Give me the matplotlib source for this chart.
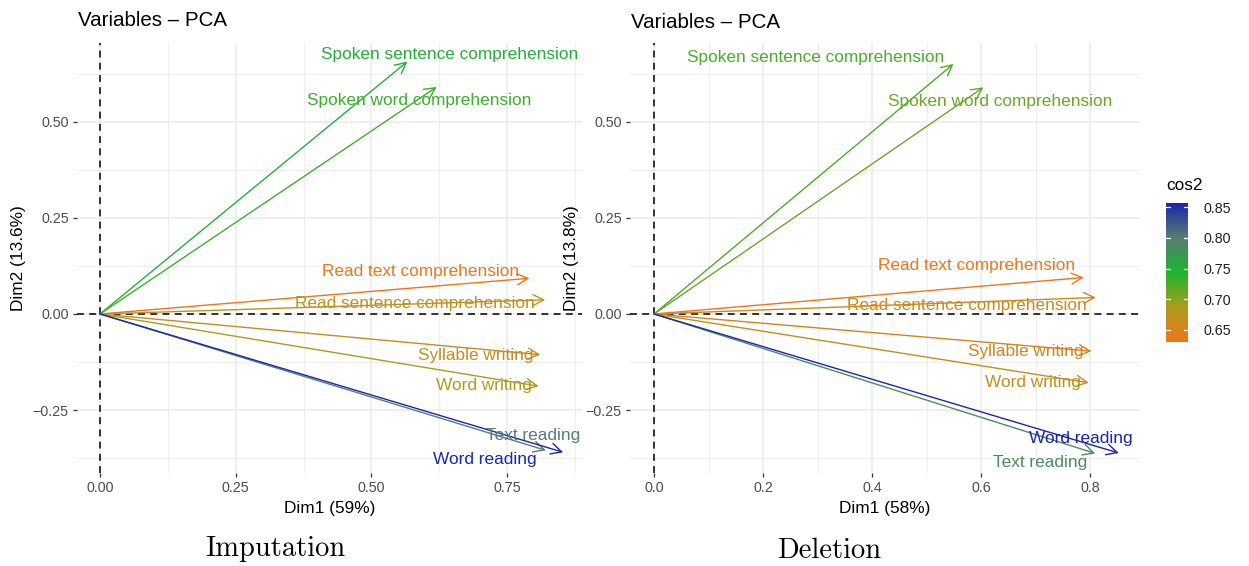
import matplotlib
matplotlib.use("Agg")
import matplotlib.pyplot as plt
from matplotlib.colors import LinearSegmentedColormap, Normalize
import numpy as np

plt.rcParams['font.family'] = ['Liberation Sans', 'DejaVu Sans']

# Variables (same order in both analyses)
variables = ["Spoken sentence comprehension", "Spoken word comprehension",
             "Read text comprehension", "Read sentence comprehension",
             "Syllable writing", "Word writing", "Text reading", "Word reading"]

# Imputation: coordinates on Dim1 / Dim2 and cos2
imp_dim1 = [0.566, 0.620, 0.791, 0.820, 0.811, 0.808, 0.821, 0.853]
imp_dim2 = [0.657, 0.591, 0.093, 0.037, -0.106, -0.188, -0.355, -0.360]
imp_cos2 = [0.752, 0.734, 0.634, 0.674, 0.669, 0.688, 0.801, 0.857]

# Deletion: coordinates on Dim1 / Dim2 and cos2
del_dim1 = [0.549, 0.604, 0.788, 0.810, 0.802, 0.797, 0.809, 0.852]
del_dim2 = [0.651, 0.590, 0.095, 0.043, -0.097, -0.179, -0.363, -0.362]
del_cos2 = [0.725, 0.713, 0.630, 0.658, 0.653, 0.667, 0.786, 0.857]

# label placement (centre of each text, data units)
imp_label_xy = [(0.643, 0.675), (0.587, 0.556), (0.591, 0.110), (0.580, 0.027),
                (0.692, -0.108), (0.708, -0.187), (0.797, -0.317), (0.708, -0.380)]
del_label_xy = [(0.296, 0.668), (0.634, 0.553), (0.591, 0.126), (0.573, 0.023),
                (0.681, -0.098), (0.695, -0.179), (0.707, -0.387), (0.783, -0.325)]

cmap = LinearSegmentedColormap.from_list(
    "cos2", [(0.0, "#F0751A"), (0.25, "#AC9C1E"), (0.5, "#1DB52F"),
             (0.75, "#587D74"), (1.0, "#1C26AA")])

GRID = "#EBEBEB"

fig = plt.figure(figsize=(12.49, 5.66), dpi=100)
W, H = 1249, 566


def px_axes(l, t, r, b):
    return fig.add_axes([l / W, 1 - b / H, (r - l) / W, (b - t) / H])


def pca_panel(ax, d1, d2, c2, label_xy, xlim, xticks, xlabels, xminor, xlab, ylab):
    norm = Normalize(min(c2), max(c2))
    ax.set_xlim(*xlim)
    ax.set_ylim(-0.414, 0.7055)
    for s in ax.spines.values():
        s.set_visible(False)
    ax.set_xticks(xticks)
    ax.set_xticklabels(xlabels)
    ax.set_xticks(xminor, minor=True)
    ax.set_yticks([-0.25, 0.0, 0.25, 0.5])
    ax.set_yticklabels(["\u22120.25", "0.00", "0.25", "0.50"])
    ax.set_yticks([-0.375, -0.125, 0.125, 0.375, 0.625], minor=True)
    ax.grid(True, which='major', color=GRID, lw=1.1)
    ax.grid(True, which='minor', color=GRID, lw=0.6)
    ax.set_axisbelow(True)
    ax.tick_params(which='major', length=3, width=0.9, color="#333333",
                   labelcolor="#4D4D4D", labelsize=10.3, pad=3)
    ax.tick_params(which='minor', length=0)
    ax.axhline(0, color="black", ls=(0, (4.5, 3.5)), lw=1.1)
    ax.axvline(0, color="black", ls=(0, (4.5, 3.5)), lw=1.1)
    for x, y, c in zip(d1, d2, c2):
        ax.annotate("", xy=(x, y), xytext=(0, 0),
                    arrowprops=dict(arrowstyle="->,head_length=0.55,head_width=0.28",
                                    color=cmap(norm(c)), lw=1.0, shrinkA=0, shrinkB=0,
                                    mutation_scale=14))
    for name, c, (lx, ly) in zip(variables, c2, label_xy):
        ax.text(lx, ly, name, color=cmap(norm(c)), fontsize=12.4,
                ha='center', va='center')
    ax.set_xlabel(xlab, fontsize=12.4, labelpad=4)
    ax.set_ylabel(ylab, fontsize=12.4, labelpad=5)
    return norm


ax1 = px_axes(77, 43, 582, 473)
pca_panel(ax1, imp_dim1, imp_dim2, imp_cos2, imp_label_xy,
          (-0.0424, 0.8877), [0, 0.25, 0.5, 0.75], ["0.00", "0.25", "0.50", "0.75"],
          [0.125, 0.375, 0.625, 0.875], "Dim1 (59%)", "Dim2 (13.6%)")

ax2 = px_axes(630, 43, 1140, 473)
norm2 = pca_panel(ax2, del_dim1, del_dim2, del_cos2, del_label_xy,
                  (-0.044, 0.891), [0, 0.2, 0.4, 0.6, 0.8], ["0.0", "0.2", "0.4", "0.6", "0.8"],
                  [0.1, 0.3, 0.5, 0.7], "Dim1 (58%)", "Dim2 (13.8%)")

fig.text(78 / W, 1 - 20 / H, "Variables \u2013 PCA", fontsize=14.8, va='center', ha='left')
fig.text(631 / W, 1 - 23 / H, "Variables \u2013 PCA", fontsize=14.8, va='center', ha='left')

# colour bar for cos2
cax = px_axes(1166, 203, 1188, 342)
grad = np.linspace(norm2.vmin, norm2.vmax, 256).reshape(-1, 1)
cax.imshow(grad, cmap=cmap, norm=norm2, aspect='auto', origin='lower',
           extent=[0, 1, norm2.vmin, norm2.vmax])
cax.set_xlim(0, 1)
cax.set_ylim(norm2.vmin, norm2.vmax)
cb_ticks = [0.65, 0.70, 0.75, 0.80, 0.85]
for t in cb_ticks:
    cax.plot([0, 0.2], [t, t], color="white", lw=0.9)
    cax.plot([0.8, 1], [t, t], color="white", lw=0.9)
cax.set_xticks([])
cax.yaxis.tick_right()
cax.set_yticks(cb_ticks)
cax.set_yticklabels([f"{t:.2f}" for t in cb_ticks])
cax.tick_params(axis='y', length=0, labelsize=10.3, labelcolor="#222222", pad=11)
for s in cax.spines.values():
    s.set_visible(False)
fig.text(1166 / W, 1 - 186 / H, "cos2", fontsize=12.4, ha='left', va='center')

# captions
fig.text(275 / W, 1 - 549 / H, "Imputation", family='cmr10', fontsize=20.5,
         ha='center', va='center')
fig.text(829 / W, 1 - 551 / H, "Deletion", family='cmr10', fontsize=20.5,
         ha='center', va='center')

fig.savefig("out.png", dpi=100)
